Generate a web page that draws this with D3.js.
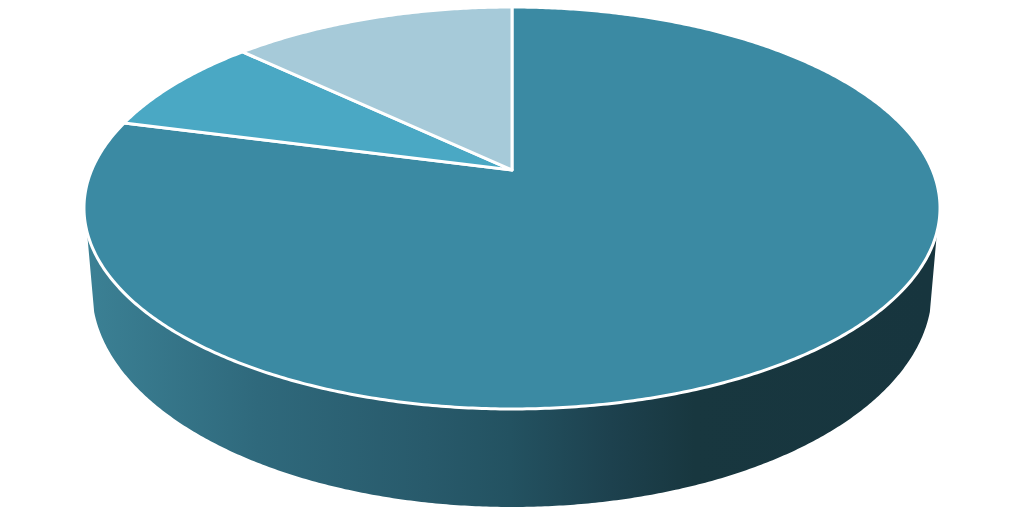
<!DOCTYPE html>
<html>
<head>
<meta charset="utf-8">
<script src="https://cdn.jsdelivr.net/npm/d3@7"></script>
<style>
  html, body { margin: 0; padding: 0; background: #fff; }
  svg { display: block; }
</style>
</head>
<body>
<svg id="chart"></svg>
<script>
const categories = ['Main', 'Middle', 'Light'];
const shares = [79.1, 8.0, 12.9];
const colours = ['#3b8aa3', '#4aa8c4', '#a6cad9'];

const sideOffsets = [0, 0.2, 0.4, 0.5, 0.62, 0.72, 1];
const sideColours = ['#3b8094', '#2f697c', '#285a6b', '#235261', '#1d414e', '#18373f', '#17353e'];

const width = 1024;
const height = 519;

const svg = d3.select('#chart')
  .attr('width', width)
  .attr('height', height);

// top face is a circle seen in perspective, the pie centre sits above the ellipse centre
const cx = 512;
const cy = 170;
const k = 0.189;
const a = 420.3;
const b = 193.8;

function topPoint(t) {
  const u = Math.sin(t);
  const v = -Math.cos(t);
  const w = 1 - k * v;
  return [cx + a * u / w, cy + b * v / w];
}

// bottom rim, only its lower part shows
const rimY = 290;
const rimRx = 420;
const rimRy = 217;

function rimPoint(t) {
  return [cx + rimRx * Math.sin(t), rimY - rimRy * Math.cos(t)];
}

const line = d3.line();
const deg = Math.PI / 180;

function sweep(fn, from, to) {
  const n = Math.ceil(Math.abs(to - from) / deg) * 2;
  return d3.range(n + 1).map(i => fn(from + (to - from) * i / n));
}

const defs = svg.append('defs');
const grad = defs.append('linearGradient')
  .attr('id', 'side')
  .attr('gradientUnits', 'userSpaceOnUse')
  .attr('x1', 90).attr('x2', 930)
  .attr('y1', 0).attr('y2', 0);

grad.selectAll('stop')
  .data(sideOffsets)
  .join('stop')
  .attr('offset', d => d)
  .attr('stop-color', (d, i) => sideColours[i]);

// side wall
const sideFrom = 107.5 * deg;
const sideTo = 252.5 * deg;
const rimFrom = 95.8 * deg;
const rimTo = 264.2 * deg;
const wall = sweep(topPoint, sideFrom, sideTo)
  .concat(sweep(rimPoint, rimTo, rimFrom));

svg.append('path')
  .attr('d', line(wall) + 'Z')
  .style('fill', 'url(#side)');

// slices
const pie = d3.pie().sort(null).value(d => d);
const arcs = pie(shares);

svg.selectAll('path.slice')
  .data(arcs)
  .join('path')
  .attr('class', 'slice')
  .attr('d', d => line([[cx, cy]].concat(sweep(topPoint, d.startAngle, d.endAngle))) + 'Z')
  .style('fill', (d, i) => colours[i])
  .style('stroke', '#fff')
  .style('stroke-width', 3)
  .style('stroke-linejoin', 'round');
</script>
</body>
</html>
